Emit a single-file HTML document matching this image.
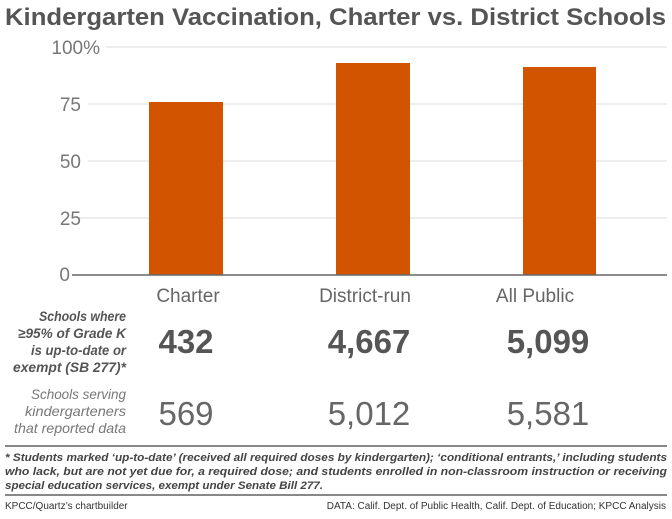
<!DOCTYPE html>
<html><head><meta charset="utf-8"><style>
body{margin:0;background:#fff;width:672px;height:514px;overflow:hidden;font-family:"Liberation Sans",sans-serif}
</style></head><body>
<svg width="672" height="514" xmlns="http://www.w3.org/2000/svg" font-family="Liberation Sans, sans-serif">
<text x="5" y="25" font-size="24" font-weight="bold" fill="#555" textLength="661" lengthAdjust="spacingAndGlyphs">Kindergarten Vaccination, Charter vs. District Schools</text>
<g stroke="#e3e3e3" stroke-width="1.3">
<line x1="106" y1="47" x2="667" y2="47"/>
<line x1="88" y1="104" x2="667" y2="104"/>
<line x1="88" y1="161" x2="667" y2="161"/>
<line x1="72" y1="218" x2="667" y2="218"/>
</g>
<g font-size="19" fill="#777" text-anchor="end">
<text x="100" y="54">100%</text>
<text x="81" y="111">75</text>
<text x="81" y="168">50</text>
<text x="81" y="225">25</text>
<text x="70" y="281">0</text>
</g>
<g fill="#d35400">
<rect x="149" y="102" width="74" height="173"/>
<rect x="336" y="63" width="74" height="212"/>
<rect x="523" y="67" width="73" height="208"/>
</g>
<line x1="72" y1="275" x2="667" y2="275" stroke="#666" stroke-width="1.5"/>
<g font-size="19" fill="#666" text-anchor="middle">
<text x="188" y="302">Charter</text>
<text x="365" y="302">District-run</text>
<text x="535" y="302">All Public</text>
</g>
<g font-size="14" font-style="italic" font-weight="bold" fill="#555" text-anchor="end" lengthAdjust="spacingAndGlyphs">
<text x="126" y="321" textLength="87" lengthAdjust="spacingAndGlyphs">Schools where</text>
<text x="126" y="338" textLength="108" lengthAdjust="spacingAndGlyphs">≥95% of Grade K</text>
<text x="126" y="355" textLength="95" lengthAdjust="spacingAndGlyphs">is up-to-date or</text>
<text x="126" y="372" textLength="113" lengthAdjust="spacingAndGlyphs">exempt (SB 277)*</text>
</g>
<g font-size="33" font-weight="bold" fill="#555" text-anchor="middle">
<text x="186" y="353">432</text>
<text x="369" y="353">4,667</text>
<text x="548" y="353">5,099</text>
</g>
<g font-size="14" font-style="italic" fill="#777" text-anchor="end">
<text x="126" y="399" textLength="95" lengthAdjust="spacingAndGlyphs">Schools serving</text>
<text x="126" y="416" textLength="101" lengthAdjust="spacingAndGlyphs">kindergarteners</text>
<text x="126" y="433" textLength="112" lengthAdjust="spacingAndGlyphs">that reported data</text>
</g>
<g font-size="33" fill="#666" text-anchor="middle">
<text x="186" y="425">569</text>
<text x="369" y="425">5,012</text>
<text x="548" y="425">5,581</text>
</g>
<line x1="5" y1="446" x2="667" y2="446" stroke="#888" stroke-width="2"/>
<g font-size="11" font-style="italic" font-weight="bold" fill="#444">
<text x="5" y="461" textLength="662" lengthAdjust="spacingAndGlyphs">* Students marked ‘up-to-date’ (received all required doses by kindergarten); ‘conditional entrants,’ including students</text>
<text x="5" y="475" textLength="662" lengthAdjust="spacingAndGlyphs">who lack, but are not yet due for, a required dose; and students enrolled in non-classroom instruction or receiving</text>
<text x="5" y="489" textLength="318" lengthAdjust="spacingAndGlyphs">special education services, exempt under Senate Bill 277.</text>
</g>
<line x1="5" y1="495" x2="667" y2="495" stroke="#888" stroke-width="2"/>
<text x="5" y="509" font-size="10" fill="#333">KPCC/Quartz’s chartbuilder</text>
<text x="666" y="509" font-size="10" fill="#333" text-anchor="end">DATA: Calif. Dept. of Public Health, Calif. Dept. of Education; KPCC Analysis</text>
</svg>
</body></html>
